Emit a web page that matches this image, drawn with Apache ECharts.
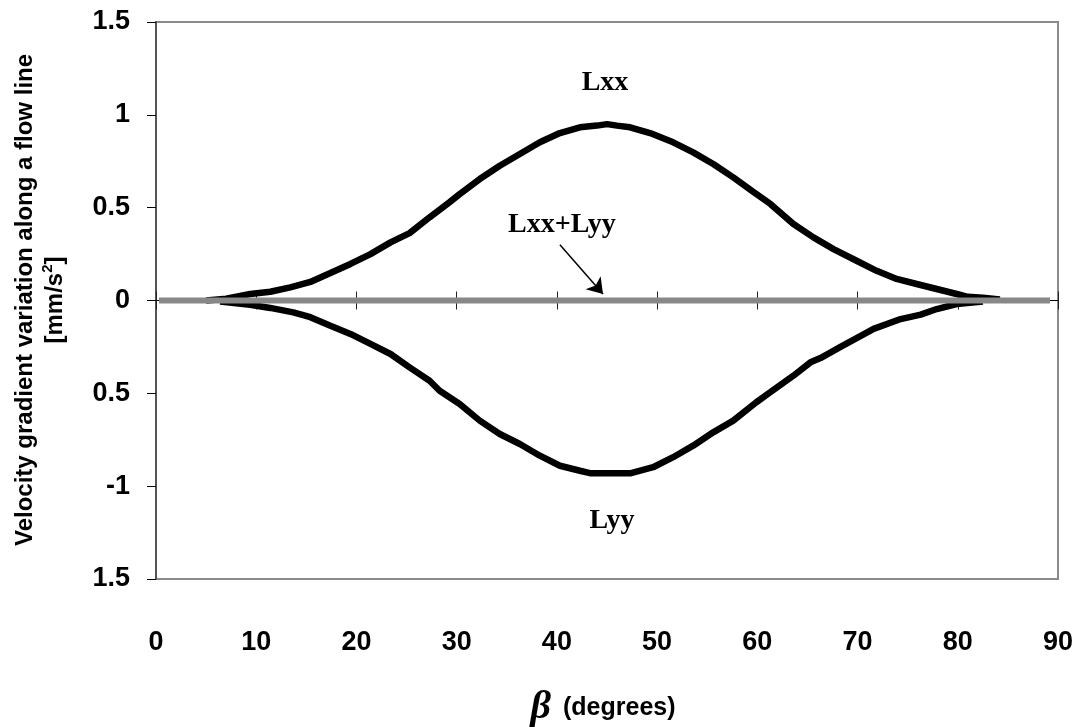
<!DOCTYPE html>
<html lang="en">
<head>
	<meta charset="UTF-8">
	<title>Velocity gradient</title>
	<style>
	body, div {
		margin: 0;
		padding: 0;
	}
	#echart {
		width: 1080px;
		height: 727px;
		background: #fff;
	}
	</style>
</head>
<body>
	<div id="echart"></div>

	<script src="https://cdn.jsdelivr.net/npm/echarts@6/dist/echarts.min.js"></script>

	<script>
	// data
	var lxxBeta = [5.0, 7.0, 9.4, 11.4, 13.4, 15.4, 17.4, 19.4, 21.4, 23.4, 25.3, 27.3, 29.3, 30.3, 32.3, 34.3, 36.3, 38.3, 40.3, 42.3, 44.0, 45.0, 46.0, 47.3, 49.3, 51.6, 53.6, 55.6, 57.6, 59.6, 61.3, 63.6, 65.6, 67.6, 69.9, 71.9, 73.9, 75.9, 77.9, 79.9, 81.0, 82.5, 84.2];
	var lxxVal  = [0, 0.01, 0.035, 0.047, 0.071, 0.10, 0.148, 0.197, 0.25, 0.313, 0.363, 0.448, 0.53, 0.573, 0.654, 0.726, 0.789, 0.852, 0.902, 0.933, 0.942, 0.95, 0.942, 0.933, 0.902, 0.852, 0.798, 0.735, 0.663, 0.585, 0.52, 0.412, 0.34, 0.277, 0.214, 0.16, 0.116, 0.089, 0.062, 0.035, 0.02, 0.015, 0.005];

	var lyyBeta = [6.4, 9.4, 11.4, 13.7, 15.4, 17.4, 19.4, 21.4, 23.4, 25.3, 27.3, 28.3, 30.3, 32.3, 34.3, 36.3, 38.3, 40.3, 42.3, 43.3, 47.4, 49.6, 51.6, 53.6, 55.6, 57.6, 59.9, 61.3, 63.6, 65.3, 66.3, 68.3, 70.0, 71.6, 74.3, 76.3, 77.9, 79.9, 82.5];
	var lyyVal  = [-0.005, -0.023, -0.04, -0.064, -0.09, -0.136, -0.18, -0.234, -0.288, -0.36, -0.432, -0.486, -0.557, -0.647, -0.719, -0.773, -0.836, -0.89, -0.917, -0.93, -0.93, -0.898, -0.844, -0.782, -0.71, -0.647, -0.548, -0.494, -0.405, -0.333, -0.31, -0.25, -0.2, -0.153, -0.1, -0.076, -0.046, -0.019, -0.005];

	var sumBeta = [0.3, 89.2];
	var sumVal  = [0, 0];

	var yTicks = [-1.5, -1, -0.5, 0, 0.5, 1, 1.5];
	var yTickLabels = ['1.5', '-1', '0.5', '0', '0.5', '1', '1.5'];

	function pairs(xs, ys) {
		return xs.map(function (x, i) { return [x, ys[i]]; });
	}

	var myEchart = echarts.init(document.getElementById('echart'));

	var labelFont = {
		fontFamily: 'Liberation Sans, Arial',
		fontWeight: 'bold',
		fontSize: 27,
		color: '#000'
	};
	var noteFont = {
		fontFamily: 'Liberation Serif, Times New Roman',
		fontWeight: 'bold',
		fontSize: 28,
		color: '#000'
	};

	// axis drawn through y = 0, only for its tick marks
	var zeroAxis = {
		type: 'value',
		min: 0,
		max: 90,
		interval: 10,
		axisTick: { show: true, length: 9, lineStyle: { color: '#222', width: 1 } },
		axisLabel: { show: false },
		splitLine: { show: false }
	};

	var yBase = {
		type: 'value',
		min: -1.5,
		max: 1.5,
		interval: 0.5,
		splitLine: { show: false }
	};

	var option = {
		animation: false,
		grid: {
			left: 156,
			right: 22,
			top: 22,
			bottom: 148,
			show: true,
			borderColor: '#8a8a8a',
			borderWidth: 2,
			backgroundColor: '#fff'
		},
		xAxis: [
			{
				type: 'value',
				position: 'bottom',
				min: 0,
				max: 90,
				interval: 10,
				axisLine: { show: false, onZero: false },
				axisTick: { show: false },
				axisLabel: Object.assign({ margin: 50 }, labelFont),
				splitLine: { show: false }
			},
			Object.assign({
				position: 'bottom',
				axisLine: { show: true, onZero: true, onZeroAxisIndex: 0, lineStyle: { color: '#000', width: 1 } }
			}, zeroAxis),
			Object.assign({
				position: 'top',
				axisLine: { show: false, onZero: true, onZeroAxisIndex: 1 }
			}, zeroAxis)
		],
		yAxis: [
			Object.assign({
				axisLine: { show: true, lineStyle: { color: '#555', width: 2 } },
				axisTick: { show: true, length: 9, lineStyle: { color: '#000', width: 1 } },
				axisLabel: Object.assign({
					margin: 26,
					formatter: function (v) {
						for (var i = 0; i < yTicks.length; i++) {
							if (Math.abs(yTicks[i] - v) < 1e-9) return yTickLabels[i];
						}
						return '';
					}
				}, labelFont)
			}, yBase),
			Object.assign({
				position: 'left',
				axisLine: { show: false },
				axisTick: { show: false },
				axisLabel: { show: false }
			}, yBase)
		],
		series: [
			{
				name: 'Lxx+Lyy',
				type: 'line',
				symbol: 'none',
				z: 3,
				lineStyle: { color: '#888', width: 6, cap: 'butt' },
				data: pairs(sumBeta, sumVal),
				markLine: {
					silent: true,
					symbol: ['none', 'arrow'],
					symbolSize: 15,
					lineStyle: { color: '#000', width: 1.5, type: 'solid' },
					label: { show: false },
					data: [[{ coord: [40.3, 0.30] }, { coord: [44.6, 0.035] }]]
				},
				markPoint: {
					silent: true,
					symbol: 'circle',
					symbolSize: 0,
					label: Object.assign({ show: true, position: 'inside', formatter: '{b}' }, noteFont),
					data: [
						{ name: 'Lxx', coord: [44.8, 1.175] },
						{ name: 'Lyy', coord: [45.5, -1.185] },
						{ name: 'Lxx+Lyy', coord: [40.5, 0.41] }
					]
				}
			},
			{
				name: 'Lxx',
				type: 'line',
				symbol: 'none',
				z: 2,
				lineStyle: { color: '#000', width: 6.5 },
				data: pairs(lxxBeta, lxxVal)
			},
			{
				name: 'Lyy',
				type: 'line',
				symbol: 'none',
				z: 2,
				lineStyle: { color: '#000', width: 6.5 },
				data: pairs(lyyBeta, lyyVal)
			}
		],
		graphic: [
			{
				type: 'text',
				x: 40,
				y: 300,
				rotation: Math.PI / 2,
				style: {
					text: 'Velocity gradient variation along a flow line\n[mm/s{s|2}]',
					rich: {
						s: { fontSize: 15, fontWeight: 'bold', fontFamily: 'Liberation Sans, Arial', verticalAlign: 'top', padding: [0, 0, 12, 0] }
					},
					fontFamily: 'Liberation Sans, Arial',
					fontWeight: 'bold',
					fontSize: 24,
					lineHeight: 30,
					align: 'center',
					verticalAlign: 'middle',
					fill: '#000'
				}
			},
			{
				type: 'text',
				x: 603,
				y: 708,
				style: {
					text: '{b|β}{d|(degrees)}',
					rich: {
						b: { fontFamily: 'Liberation Serif, Times New Roman', fontStyle: 'italic', fontWeight: 'bold', fontSize: 40, fill: '#000' },
						d: { fontFamily: 'Liberation Sans, Arial', fontWeight: 'bold', fontSize: 25, fill: '#000', padding: [0, 0, 0, 12] }
					},
					align: 'center',
					verticalAlign: 'middle'
				}
			}
		]
	};

	myEchart.setOption(option);
	</script>
</body>
</html>
